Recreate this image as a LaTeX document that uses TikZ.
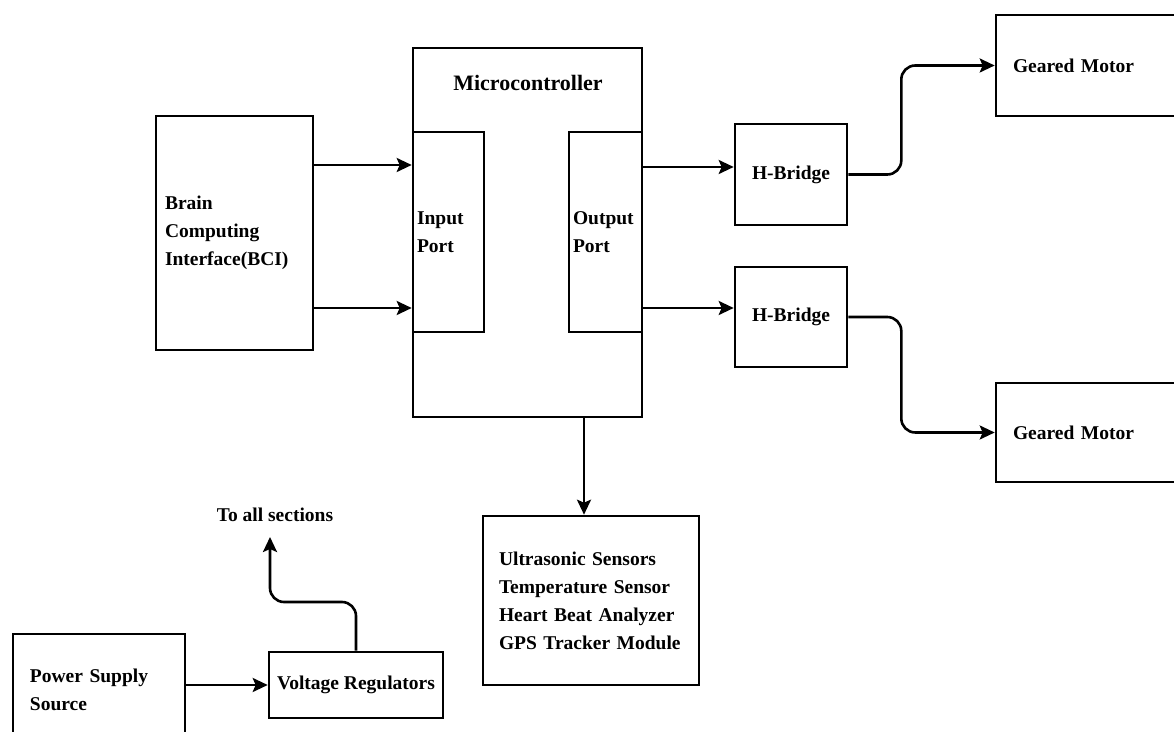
\documentclass[tikz,border=0pt]{standalone}
\usepackage{fontspec}
\setmainfont{Liberation Serif}
\usetikzlibrary{arrows.meta,calc}

\begin{document}
\begin{tikzpicture}[
  x=0.5pt, y=-0.5pt,
  every node/.style={font=\bfseries\fontsize{9.75}{14}\selectfont},
  block/.style={draw, line width=1.3pt, rectangle, inner ysep=0pt, align=left},
  arrow/.style={-{Stealth[length=7.5pt, width=7pt, inset=1.5pt]}, line width=1.3pt},
  elbow/.style={arrow, rounded corners=7pt}
]
\clip (0,0) rectangle (1174,732);
% left side: BCI and controller
\node[block, minimum width=78.5pt, minimum height=117pt, inner xsep=4.5pt,
  text width=69.5pt] (bci) at (234.5,233) {Brain\\ Computing\\ Interface(BCI)};
\node[block, minimum width=114.5pt, minimum height=184.5pt] (mcu) at (527.5,232.5) {};
\node[font=\bfseries\fontsize{11}{14}\selectfont] (mcutitle) at (528,83) {Microcontroller};
\node[block, minimum width=35.5pt, minimum height=100pt, inner xsep=2pt,
  text width=31.5pt] (inport) at (448.5,232) {Input\\ Port};
\node[block, minimum width=36.5pt, minimum height=100pt, inner xsep=2pt,
  text width=32.5pt] (outport) at (605.5,232) {Output\\ Port};
% right side: drivers and motors
\node[block, minimum width=56pt, minimum height=50.5pt, align=center] (hbtop) at (791,174.5) {H-Bridge};
\node[block, minimum width=56pt, minimum height=50pt, align=center] (hbbot) at (791,317) {H-Bridge};
\node[block, minimum width=100pt, minimum height=50.5pt, inner xsep=8.5pt,
  text width=83pt] (gmtop) at (1096,65.5) {Geared Motor};
\node[block, minimum width=100pt, minimum height=49.5pt, inner xsep=8.5pt,
  text width=83pt] (gmbot) at (1096,432.5) {Geared Motor};
% sensors and power
\node[block, minimum width=108pt, minimum height=84.5pt, inner xsep=8pt,
  text width=92pt] (sensors) at (591,600.5) {Ultrasonic Sensors\\ Temperature Sensor\\
  Heart Beat Analyzer\\ GPS Tracker Module};
\node[block, minimum width=86pt, minimum height=56pt, inner xsep=8.5pt,
  text width=69pt] (psu) at (99,690) {Power Supply\\ Source};
\node[block, minimum width=87pt, minimum height=33pt, inner xsep=1pt, align=center] (vreg) at (356,685) {Voltage Regulators};
\node (allsec) at (275,515) {To all sections};
\coordinate (feed) at (270,537);

\draw[arrow] ([yshift=34pt]bci.east) -- ([yshift=34pt]bci.east -| inport.west);
\draw[arrow] ([yshift=-37.5pt]bci.east) -- ([yshift=-37.5pt]bci.east -| inport.west);
\draw[arrow] ([yshift=3.75pt]hbtop.west -| outport.east) -- ([yshift=3.75pt]hbtop.west);
\draw[arrow] ([yshift=4.5pt]hbbot.west -| outport.east) -- ([yshift=4.5pt]hbbot.west);
\draw[elbow] (hbtop.east) -- ++(26.5pt,0) |- (gmtop.west);
\draw[elbow] (hbbot.east) -- ++(26.5pt,0) |- (gmbot.west);
\draw[arrow] ([xshift=-3.5pt]sensors.north |- mcu.south) -- ([xshift=-3.5pt]sensors.north);
\draw[arrow] (vreg.west -| psu.east) -- (vreg.west);
\draw[elbow] (vreg.north) |- ($(feed)+(0,65)$) -- (feed);
\end{tikzpicture}
\end{document}
